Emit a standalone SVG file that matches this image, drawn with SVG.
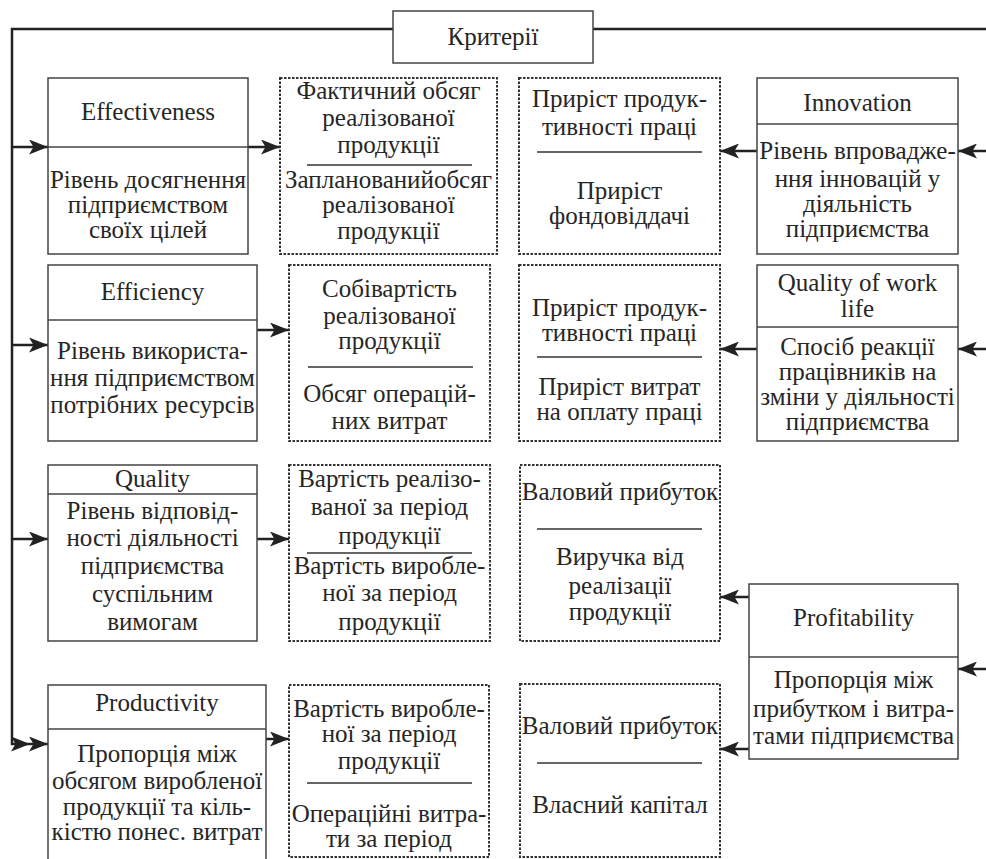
<svg xmlns="http://www.w3.org/2000/svg" width="986" height="859" viewBox="0 0 986 859">
<defs>
<marker id="arr" markerUnits="userSpaceOnUse" markerWidth="19" markerHeight="15" refX="19" refY="7.5" orient="auto">
<path d="M0,0 L19,7.5 L0,15 L4.5,7.5 z" fill="#222"/>
</marker>
<style>
.box{fill:#fff;stroke:#444;stroke-width:1.5}
.dbox{fill:#fff;stroke:#333;stroke-width:2;stroke-dasharray:2.5 1.5}
.div{stroke:#444;stroke-width:1.5;fill:none}
.frac{stroke:#333;stroke-width:1.5;fill:none}
.con{stroke:#222;stroke-width:2.5;fill:none}
.arr{marker-end:url(#arr)}
text{font-family:"Liberation Serif","Times New Roman",serif;font-size:25px;fill:#262626;text-anchor:middle}
</style>
</defs>
<rect width="986" height="859" fill="#fff"/>

<g id="connectors">
<path class="con" d="M393,29 H12 V744 H30" marker-end="url(#arr)"/>
<path class="con" d="M593,29 H986"/>
<path class="con arr" d="M12,147 H48"/>
<path class="con arr" d="M12,345 H48"/>
<path class="con arr" d="M12,539 H48"/>
<path class="con arr" d="M30,744 H48"/>
<path class="con arr" d="M248,147 H280"/>
<path class="con arr" d="M257,330 H289"/>
<path class="con arr" d="M257,539 H289"/>
<path class="con arr" d="M266,739 H289"/>
<path class="con arr" d="M757,151 H720"/>
<path class="con arr" d="M757,349 H720"/>
<path class="con arr" d="M749,597 H720"/>
<path class="con arr" d="M749,749 H720"/>
<path class="con arr" d="M986,151 H958"/>
<path class="con arr" d="M986,349 H958"/>
<path class="con arr" d="M986,669 H958"/>
</g>

<g id="criteria">
<rect class="box" x="393" y="11" width="200" height="52"/>
<text x="493" y="45">Критерії</text>
</g>

<g id="effectiveness">
<rect class="box" x="48" y="78" width="200" height="176"/>
<line class="div" x1="48" y1="147" x2="248" y2="147"/>
<text x="148" y="120">Effectiveness</text>
<text x="148" y="188">Рівень досягнення</text>
<text x="148" y="213">підприємством</text>
<text x="148" y="238">своїх цілей</text>
</g>

<g id="ratio-effectiveness">
<rect class="dbox" x="280" y="78" width="217" height="176"/>
<text x="388.5" y="99">Фактичний обсяг</text>
<text x="388.5" y="126">реалізованої</text>
<text x="388.5" y="153">продукції</text>
<line class="frac" x1="307" y1="165" x2="472" y2="165"/>
<text x="388.5" y="188">Запланованийобсяг</text>
<text x="388.5" y="213">реалізованої</text>
<text x="388.5" y="239">продукції</text>
</g>

<g id="ratio-innovation">
<rect class="dbox" x="519" y="78" width="201" height="176"/>
<text x="619.5" y="107">Приріст продук-</text>
<text x="619.5" y="135">тивності праці</text>
<line class="frac" x1="537" y1="152" x2="702" y2="152"/>
<text x="619.5" y="199">Приріст</text>
<text x="619.5" y="224">фондовіддачі</text>
</g>

<g id="innovation">
<rect class="box" x="757" y="78" width="201" height="176"/>
<line class="div" x1="757" y1="124" x2="958" y2="124"/>
<text x="857.5" y="111">Innovation</text>
<text x="857.5" y="159">Рівень впровадже-</text>
<text x="857.5" y="187">ння інновацій у</text>
<text x="857.5" y="212">діяльність</text>
<text x="857.5" y="237">підприємства</text>
</g>

<g id="efficiency">
<rect class="box" x="48" y="265" width="209" height="176"/>
<line class="div" x1="48" y1="320" x2="257" y2="320"/>
<text x="152.5" y="300">Efficiency</text>
<text x="152.5" y="359">Рівень використа-</text>
<text x="152.5" y="386">ння підприємством</text>
<text x="152.5" y="413">потрібних ресурсів</text>
</g>

<g id="ratio-efficiency">
<rect class="dbox" x="289" y="265" width="201" height="176"/>
<text x="389.5" y="297">Собівартість</text>
<text x="389.5" y="324">реалізованої</text>
<text x="389.5" y="349">продукції</text>
<line class="frac" x1="308" y1="367" x2="473" y2="367"/>
<text x="389.5" y="402">Обсяг операцій-</text>
<text x="389.5" y="429">них витрат</text>
</g>

<g id="ratio-qwl">
<rect class="dbox" x="519" y="265" width="201" height="176"/>
<text x="619.5" y="316">Приріст продук-</text>
<text x="619.5" y="341">тивності праці</text>
<line class="frac" x1="537" y1="357" x2="702" y2="357"/>
<text x="619.5" y="395">Приріст витрат</text>
<text x="619.5" y="420">на оплату праці</text>
</g>

<g id="quality-of-work-life">
<rect class="box" x="757" y="265" width="201" height="176"/>
<line class="div" x1="757" y1="327" x2="958" y2="327"/>
<text x="857.5" y="291">Quality of work</text>
<text x="857.5" y="317">life</text>
<text x="857.5" y="355">Спосіб реакції</text>
<text x="857.5" y="380">працівників на</text>
<text x="857.5" y="405">зміни у діяльності</text>
<text x="857.5" y="430">підприємства</text>
</g>

<g id="quality">
<rect class="box" x="48" y="465" width="209" height="176"/>
<line class="div" x1="48" y1="494" x2="257" y2="494"/>
<text x="152.5" y="487">Quality</text>
<text x="152.5" y="519">Рівень відповід-</text>
<text x="152.5" y="546">ності діяльності</text>
<text x="152.5" y="574">підприємства</text>
<text x="152.5" y="602">суспільним</text>
<text x="152.5" y="630">вимогам</text>
</g>

<g id="ratio-quality">
<rect class="dbox" x="289" y="465" width="201" height="176"/>
<text x="389.5" y="487">Вартість реалізо-</text>
<text x="389.5" y="515">ваної за період</text>
<text x="389.5" y="544">продукції</text>
<line class="frac" x1="307" y1="553" x2="472" y2="553"/>
<text x="389.5" y="574">Вартість виробле-</text>
<text x="389.5" y="601">ної за період</text>
<text x="389.5" y="630">продукції</text>
</g>

<g id="ratio-profitability-1">
<rect class="dbox" x="520" y="465" width="200" height="176"/>
<text x="620" y="500">Валовий прибуток</text>
<line class="frac" x1="537" y1="529" x2="702" y2="529"/>
<text x="620" y="565">Виручка від</text>
<text x="620" y="594">реалізації</text>
<text x="620" y="620">продукції</text>
</g>

<g id="profitability">
<rect class="box" x="749" y="584" width="209" height="175"/>
<line class="div" x1="749" y1="657" x2="958" y2="657"/>
<text x="853.5" y="626">Profitability</text>
<text x="853.5" y="688">Пропорція між</text>
<text x="853.5" y="717">прибутком і витра-</text>
<text x="853.5" y="744">тами підприємства</text>
</g>

<g id="productivity">
<rect class="box" x="48" y="685" width="218" height="200"/>
<line class="div" x1="48" y1="729" x2="266" y2="729"/>
<text x="157" y="711">Productivity</text>
<text x="157" y="762">Пропорція між</text>
<text x="157" y="789">обсягом виробленої</text>
<text x="157" y="815">продукції та кіль-</text>
<text x="157" y="840">кістю понес. витрат</text>
</g>

<g id="ratio-productivity">
<rect class="dbox" x="289" y="685" width="200" height="172"/>
<text x="389" y="717">Вартість виробле-</text>
<text x="389" y="742">ної за період</text>
<text x="389" y="769">продукції</text>
<line class="frac" x1="307" y1="783" x2="472" y2="783"/>
<text x="389" y="822">Операційні витра-</text>
<text x="389" y="847">ти за період</text>
</g>

<g id="ratio-profitability-2">
<rect class="dbox" x="520" y="684" width="200" height="173"/>
<text x="620" y="734">Валовий прибуток</text>
<line class="frac" x1="537" y1="763" x2="702" y2="763"/>
<text x="620" y="813">Власний капітал</text>
</g>
</svg>
